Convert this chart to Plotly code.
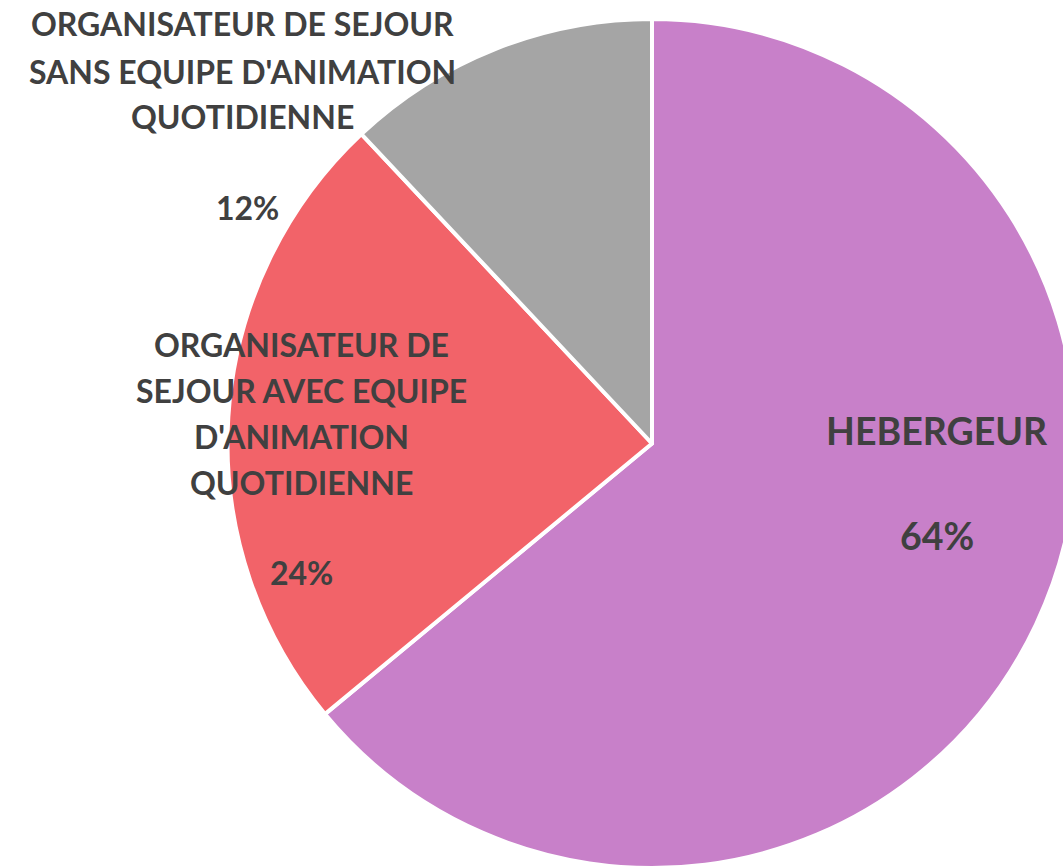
import plotly.graph_objects as go

# ---- data ----
categories = ["HEBERGEUR",
              "ORGANISATEUR DE SEJOUR AVEC EQUIPE D'ANIMATION QUOTIDIENNE",
              "ORGANISATEUR DE SEJOUR SANS EQUIPE D'ANIMATION QUOTIDIENNE"]
values = [64, 24, 12]
colors = ["#C880C9", "#F26369", "#A5A5A5"]
label_lines = [
    ["HEBERGEUR"],
    ["ORGANISATEUR DE", "SEJOUR AVEC EQUIPE", "D'ANIMATION", "QUOTIDIENNE"],
    ["ORGANISATEUR DE SEJOUR", "SANS EQUIPE D'ANIMATION", "QUOTIDIENNE"],
]
pct_labels = [f"{round(v / sum(values) * 100)}%" for v in values]

# ---- layout geometry (pixels) ----
W, H = 1080, 868
cx, cy, r = 652, 443.5, 424.5

fig = go.Figure(go.Pie(
    labels=categories,
    values=values,
    sort=False,
    direction="clockwise",
    rotation=0,
    marker=dict(colors=colors, line=dict(color="white", width=4)),
    textinfo="none",
    hoverinfo="label+percent",
    showlegend=False,
    domain=dict(x=[(cx - r) / W, (cx + r) / W], y=[0, (H - (cy - r)) / H]),
))

TXT = "#404040"
FONT = "Lato"

# label block positions: (center x, list of line-center ys, pct y, font size)
blocks = [
    (937, [430], 535, 37.5),
    (301, [344, 390, 436, 482], 572, 32),
    (242, [24, 71, 117], 207, 32),
]
annotations = []
for i, (bx, ys, py, fs) in enumerate(blocks):
    for line, ly in zip(label_lines[i], ys):
        annotations.append(dict(x=bx / W, y=1 - ly / H, xref="paper", yref="paper",
                                text=f"<b>{line}</b>", showarrow=False,
                                xanchor="center", yanchor="middle",
                                font=dict(family=FONT, size=fs, color=TXT)))
    px = bx + (5 if i == 2 else 0)
    annotations.append(dict(x=px / W, y=1 - py / H, xref="paper", yref="paper",
                            text=f"<b>{pct_labels[i]}</b>", showarrow=False,
                            xanchor="center", yanchor="middle",
                            font=dict(family=FONT, size=fs, color=TXT)))

fig.update_layout(
    width=W, height=H,
    margin=dict(l=0, r=0, t=0, b=0),
    paper_bgcolor="white",
    plot_bgcolor="white",
    annotations=annotations,
)

fig.write_html("out.html",
               config={"displayModeBar": False},
               post_script="document.body.style.margin='0';document.body.style.overflow='hidden';document.documentElement.style.overflow='hidden';")
